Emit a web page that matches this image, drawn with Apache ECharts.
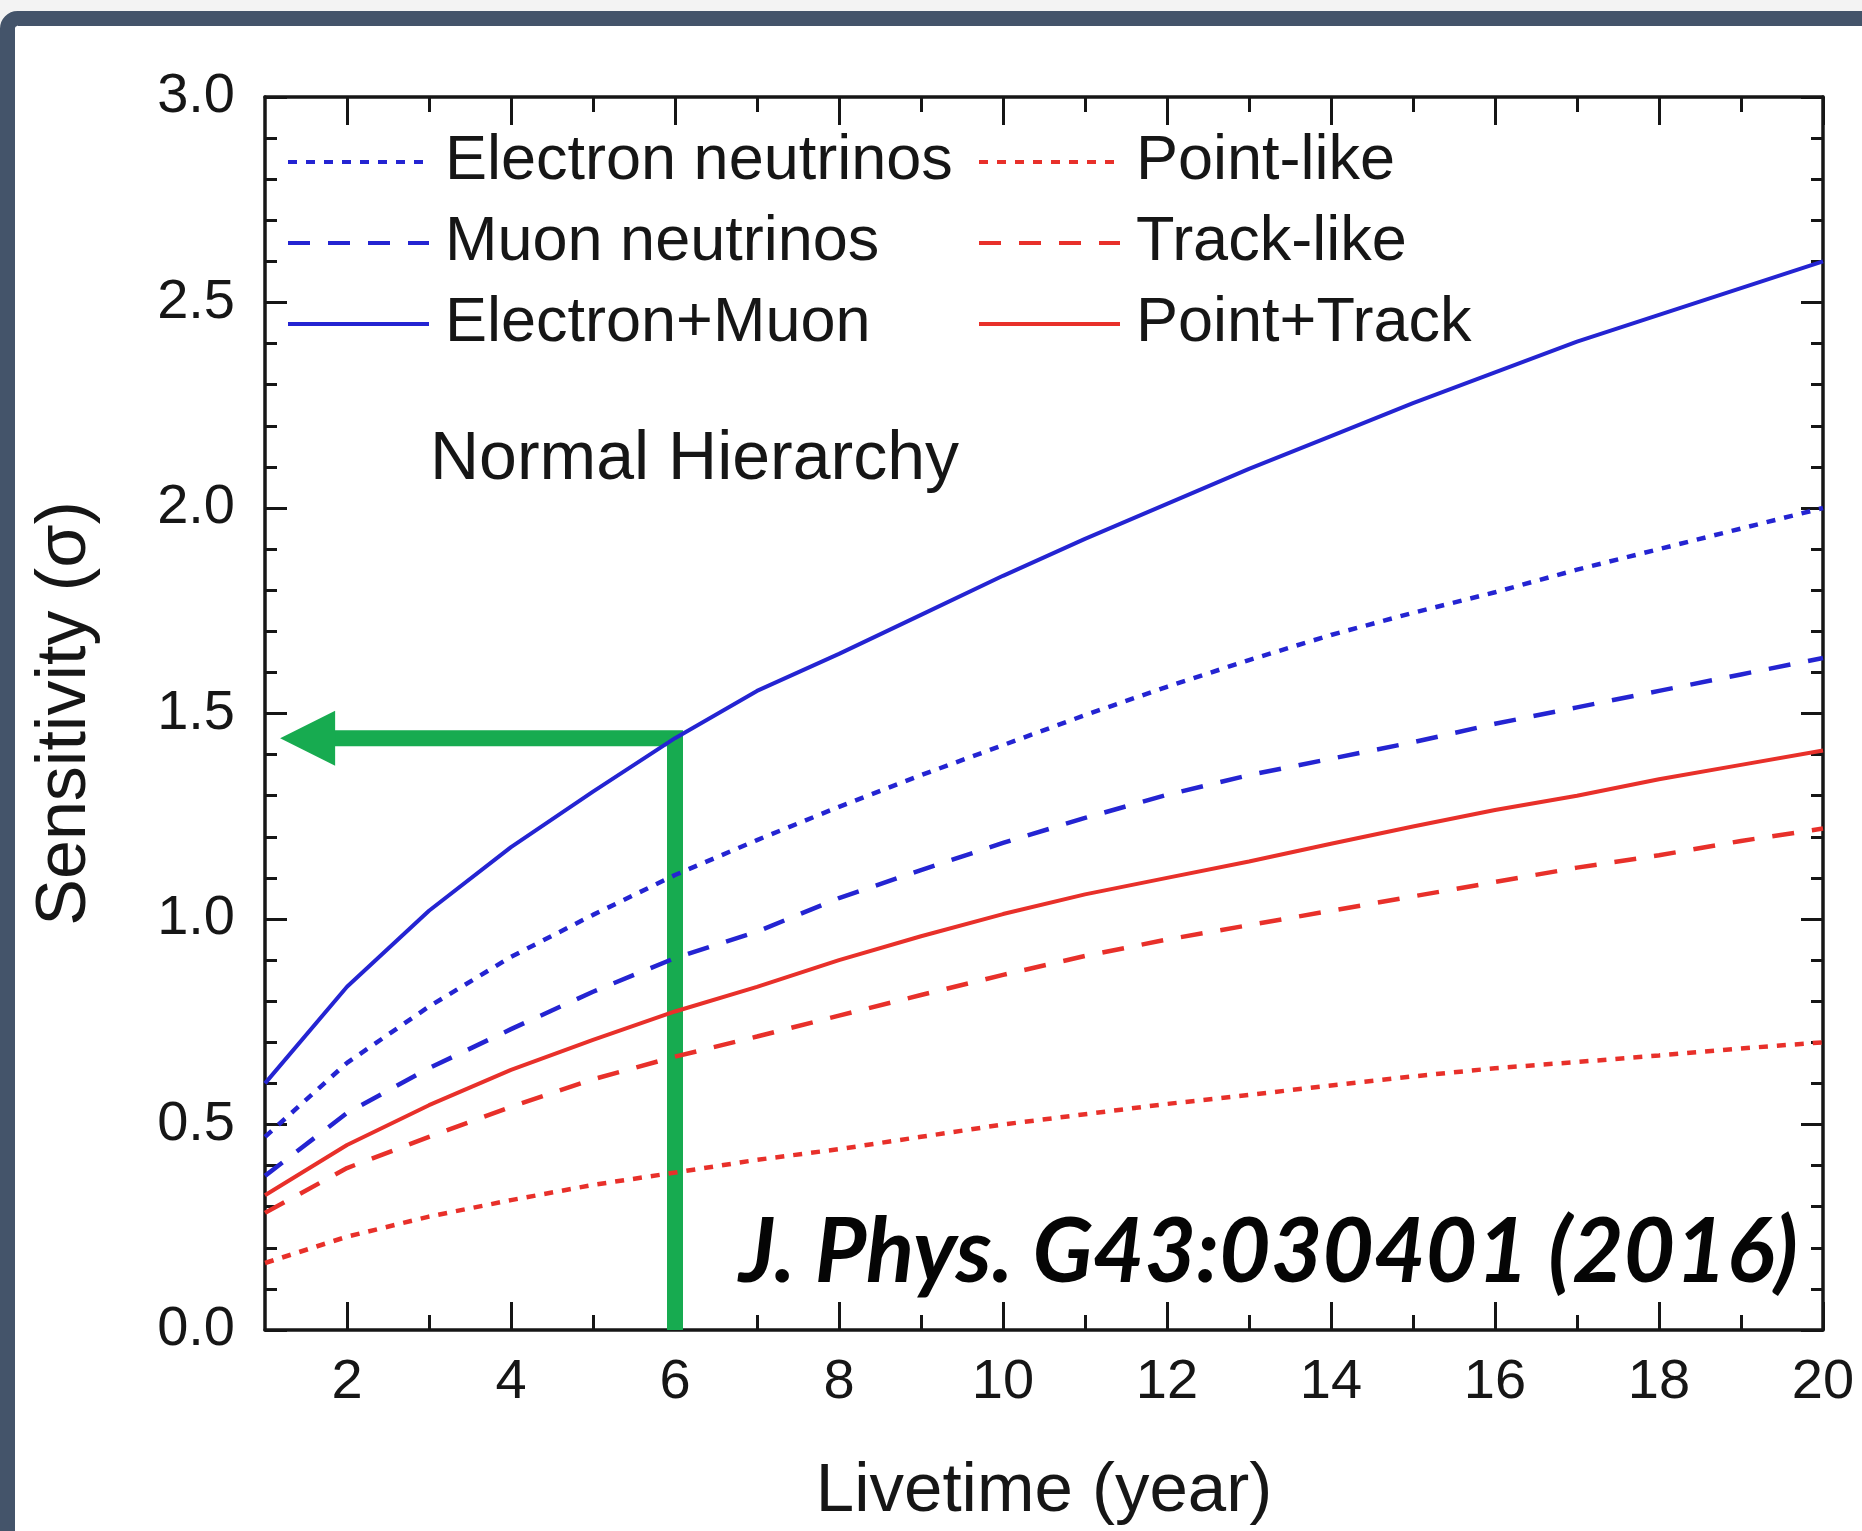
<!DOCTYPE html>
<html>
<head>
<meta charset="utf-8">
<script src="https://cdn.jsdelivr.net/npm/echarts@6/dist/echarts.min.js"></script>
<style>
html,body{margin:0;padding:0;background:#ffffff;}
#chart{width:1862px;height:1531px;}
</style>
</head>
<body>
<div id="chart"></div>
<script>
// ---- data ----
const years = [1,2,3,4,5,6,7,8,9,10,11,12,13,14,15,16,17,18,19,20];
const electronNeutrinos = [0.47,0.65,0.787,0.908,1.01,1.107,1.192,1.273,1.350,1.423,1.496,1.565,1.630,1.691,1.745,1.795,1.85,1.90,1.95,2.00];
const muonNeutrinos     = [0.375,0.528,0.637,0.732,0.823,0.905,0.969,1.051,1.119,1.185,1.246,1.302,1.350,1.39,1.43,1.475,1.515,1.555,1.595,1.635];
const electronPlusMuon  = [0.60,0.835,1.02,1.175,1.31,1.44,1.555,1.645,1.74,1.835,1.925,2.01,2.095,2.175,2.255,2.33,2.405,2.47,2.535,2.60];
const pointLike         = [0.163,0.227,0.276,0.316,0.353,0.383,0.414,0.44,0.47,0.50,0.525,0.55,0.572,0.595,0.617,0.637,0.652,0.668,0.685,0.70];
const trackLike         = [0.285,0.394,0.47,0.543,0.610,0.665,0.714,0.765,0.815,0.864,0.91,0.95,0.985,1.02,1.055,1.09,1.125,1.155,1.19,1.22];
const pointPlusTrack    = [0.328,0.450,0.547,0.633,0.706,0.775,0.835,0.90,0.958,1.012,1.06,1.10,1.14,1.183,1.225,1.265,1.30,1.34,1.375,1.41];

const xTickLabels = [2,4,6,8,10,12,14,16,18,20];
const xMinorTicks = [3,5,7,9,11,13,15,17,19];
const yTickLabels = ['0.0','0.5','1.0','1.5','2.0','2.5','3.0'];

// green annotation: 6 years -> 1.44 sigma
const annotationYear = 6;
const annotationSigma = 1.44;
const arrowHeadYear = 1.52;

// ---- styles ----
const FONT = 'Liberation Sans, Arial, sans-serif';
const BLUE = '#2424d2';
const RED = '#e8302a';
const GREEN = '#17ab50';
const INK = '#161616';
const DOT = [9, 9];
const DASH = [22, 18];

function curve(name, values, color, type, width) {
  return {
    type: 'line',
    name: name,
    data: years.map((x, i) => [x, values[i]]),
    symbol: 'none',
    lineStyle: { color: color, width: width, type: type },
    itemStyle: { color: color },
    z: 3,
    animation: false
  };
}

function xAxisDef(position, ticks, len, withLabels, showLine) {
  const a = {
    type: 'value', position: position, min: 1, max: 20, interval: 1,
    axisLine: { show: showLine, lineStyle: { color: INK, width: 3.5 } },
    axisTick: { show: true, inside: true, length: len, customValues: ticks, lineStyle: { color: INK, width: 3 } },
    axisLabel: { show: withLabels, customValues: xTickLabels, margin: 25, fontSize: 56, fontFamily: FONT, color: INK },
    splitLine: { show: false }
  };
  if (withLabels) {
    a.name = 'Livetime (year)';
    a.nameLocation = 'middle';
    a.nameGap = 127;
    a.nameTextStyle = { fontSize: 69, fontFamily: FONT, color: INK };
  }
  return a;
}

function yAxisDef(position, withLabels) {
  const a = {
    type: 'value', position: position, min: 0, max: 3, interval: 0.5,
    axisLine: { show: true, lineStyle: { color: INK, width: 3.5 } },
    axisTick: { show: true, inside: true, length: 22, lineStyle: { color: INK, width: 3 } },
    minorTick: { show: true, splitNumber: 5, length: 12, lineStyle: { color: INK, width: 3 } },
    axisLabel: { show: withLabels, margin: 30, fontSize: 56, fontFamily: FONT, color: INK,
                 formatter: v => yTickLabels[Math.round(v * 2)] },
    splitLine: { show: false }
  };
  if (withLabels) {
    a.name = 'Sensitivity (σ)';
    a.nameLocation = 'middle';
    a.nameGap = 164;
    a.nameTextStyle = { fontSize: 70, fontFamily: FONT, color: INK };
  }
  return a;
}

const legendText = { fontSize: 63, fontFamily: FONT, color: INK, lineHeight: 64, padding: [0, 0, 0, 11] };

const chart = echarts.init(document.getElementById('chart'), null, { renderer: 'canvas' });
chart.setOption({
  backgroundColor: '#f3f3f3',
  animation: false,
  grid: { left: 265, top: 97, width: 1558, height: 1233, containLabel: false, outerBoundsMode: 'none' },
  xAxis: [
    xAxisDef('bottom', xTickLabels, 28, true, true),
    xAxisDef('bottom', xMinorTicks, 15, false, false),
    xAxisDef('top', xTickLabels, 28, false, true),
    xAxisDef('top', xMinorTicks, 15, false, false)
  ],
  yAxis: [yAxisDef('left', true), yAxisDef('right', false)],
  legend: [
    { data: ['Electron neutrinos', 'Muon neutrinos', 'Electron+Muon'], orient: 'vertical',
      left: 281, top: 125, itemWidth: 141, itemHeight: 20, itemGap: 17, selectedMode: false,
      itemStyle: { opacity: 0 }, lineStyle: { width: 4 }, textStyle: legendText },
    { data: ['Point-like', 'Track-like', 'Point+Track'], orient: 'vertical',
      left: 972, top: 125, itemWidth: 141, itemHeight: 20, itemGap: 17, selectedMode: false,
      itemStyle: { opacity: 0 }, lineStyle: { width: 4 }, textStyle: legendText }
  ],
  graphic: [
    { type: 'rect', silent: true, z: -100,
      shape: { x: 7.5, y: 18.5, width: 1920, height: 1600, r: 10 },
      style: { fill: '#ffffff', stroke: '#44546a', lineWidth: 15 } },
    { type: 'text', silent: true, z: 50, x: 430, y: 460,
      style: { text: 'Normal Hierarchy', font: '68px ' + FONT, fill: INK, align: 'left', verticalAlign: 'middle' } },
    { type: 'text', silent: true, z: 50, x: 1798, y: 1253,
      style: { text: 'J. Phys. G43:030401 (2016)', font: 'italic bold 89px Lato, ' + FONT, fill: '#050505', align: 'right', verticalAlign: 'middle' } }
  ],
  series: [
    {
      type: 'line', name: 'annotation', z: 1, animation: false, silent: true,
      data: [
        { value: [annotationYear, 0], symbol: 'none' },
        { value: [annotationYear, annotationSigma], symbol: 'none' },
        { value: [arrowHeadYear, annotationSigma], symbol: 'triangle', symbolSize: [55, 55], symbolRotate: 90 }
      ],
      showSymbol: true,
      lineStyle: { color: GREEN, width: 16, cap: 'butt', join: 'miter' },
      itemStyle: { color: GREEN }
    },
    curve('Electron neutrinos', electronNeutrinos, BLUE, DOT, 4.5),
    curve('Muon neutrinos', muonNeutrinos, BLUE, DASH, 4.5),
    curve('Electron+Muon', electronPlusMuon, BLUE, 'solid', 4),
    curve('Point-like', pointLike, RED, DOT, 4.5),
    curve('Track-like', trackLike, RED, DASH, 4.5),
    curve('Point+Track', pointPlusTrack, RED, 'solid', 4)
  ]
});
</script>
</body>
</html>
